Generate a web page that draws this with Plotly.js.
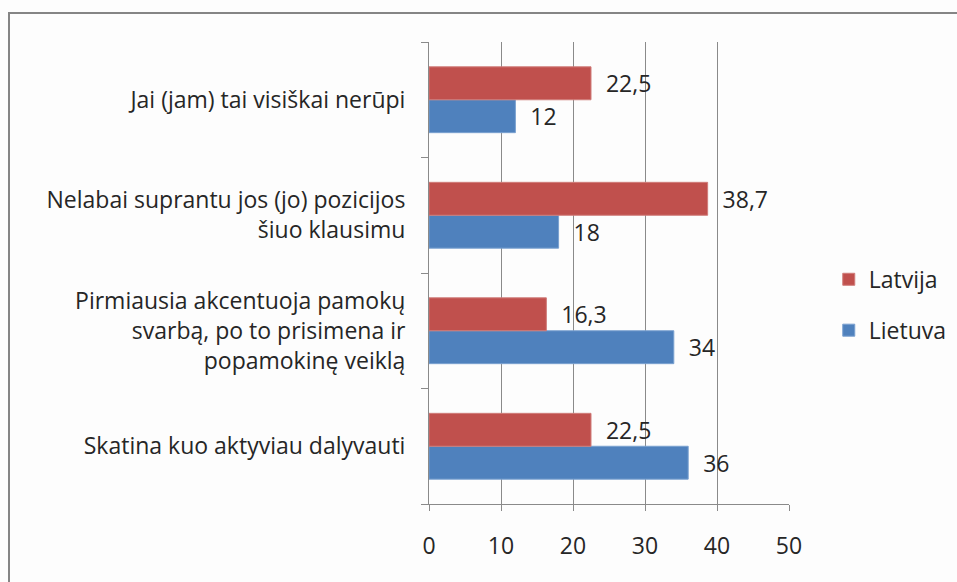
<!DOCTYPE html>
<html>
<head>
<meta charset="utf-8">
<script src="https://cdn.plot.ly/plotly-3.0.1.min.js"></script>
<style>
  html, body { margin: 0; padding: 0; background: #fdfdfd; }
  #chart { position: absolute; left: 0; top: 0; width: 957px; height: 582px; }
  #frame { position: absolute; left: 8px; top: 12px; width: 1000px; height: 700px;
           border: 2px solid #858585; pointer-events: none; }
</style>
</head>
<body>
<div id="chart"></div>
<div id="frame"></div>
<script>
// Categories bottom to top
var categories = [
  "Skatina kuo aktyviau dalyvauti",
  "Pirmiausia akcentuoja pamokų<br>svarbą, po to prisimena ir<br>popamokinę veiklą",
  "Nelabai suprantu jos (jo) pozicijos<br>šiuo klausimu",
  "Jai (jam) tai visiškai nerūpi"
];
var lietuva = [36, 34, 18, 12];
var latvija = [22.5, 16.3, 38.7, 22.5];
var xTicks = [0, 10, 20, 30, 40, 50];

var FONT = "'Open Sans', sans-serif";
var FS = 23;
var textCommon = {
  type: "bar",
  orientation: "h",
  textposition: "outside",
  texttemplate: "\u00a0\u00a0%{x}",
  textfont: { family: FONT, size: FS, color: "#262626" },
  cliponaxis: false,
  constraintext: "none",
  hoverinfo: "skip"
};

var traces = [
  Object.assign({}, textCommon, {
    name: "Lietuva", x: lietuva, y: categories, legendgroup: "b", legendrank: 2,
    marker: { color: "#4F81BD", line: { color: "#7aa1d0", width: 1 } }
  }),
  Object.assign({}, textCommon, {
    name: "Latvija", x: latvija, y: categories, legendgroup: "a", legendrank: 1,
    marker: { color: "#C0504D", line: { color: "#d07c7a", width: 1 } }
  })
];

var layout = {
  width: 957, height: 582,
  margin: { l: 429, r: 168, t: 42, b: 78, pad: 0, autoexpand: false },
  paper_bgcolor: "#fdfdfd",
  plot_bgcolor: "#fdfdfd",
  separators: ", ",
  barmode: "group",
  bargap: 0.43,
  bargroupgap: 0,
  font: { family: FONT, size: FS, color: "#262626" },
  xaxis: {
    range: [0, 50],
    tickvals: xTicks,
    ticktext: xTicks.map(String),
    showgrid: true, gridcolor: "#8a8a8a", gridwidth: 1,
    zeroline: false,
    showline: true, linecolor: "#8a8a8a", linewidth: 1,
    ticks: "outside", ticklen: 6, tickcolor: "#8a8a8a",
    ticklabelstandoff: 15,
    tickfont: { family: FONT, size: FS, color: "#262626" },
    automargin: false,
    fixedrange: true
  },
  yaxis: {
    type: "category",
    categoryorder: "array", categoryarray: categories,
    showgrid: false, zeroline: false,
    showline: true, linecolor: "#8a8a8a", linewidth: 1,
    ticks: "outside", ticklen: 7, tickcolor: "#8a8a8a",
    tickson: "boundaries",
    ticklabelstandoff: 18,
    tickfont: { family: FONT, size: FS, color: "#262626" },
    automargin: false,
    fixedrange: true
  },
  showlegend: true,
  legend: {
    xref: "container", yref: "container",
    x: 0.866, xanchor: "left",
    y: 0.557, yanchor: "top",
    traceorder: "grouped",
    tracegroupgap: 18,
    bgcolor: "rgba(0,0,0,0)",
    font: { family: FONT, size: FS, color: "#262626" }
  }
};

Plotly.newPlot("chart", traces, layout, { displayModeBar: false, staticPlot: true });
</script>
</body>
</html>
